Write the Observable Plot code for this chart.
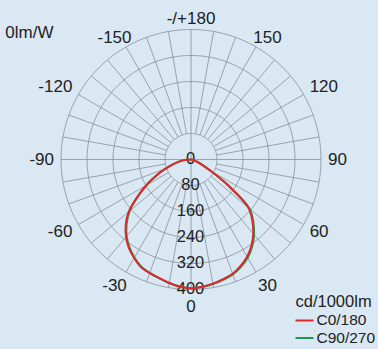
<!DOCTYPE html>
<html><head><meta charset="utf-8">
<script src="https://cdn.jsdelivr.net/npm/d3@7"></script>
<script src="https://cdn.jsdelivr.net/npm/@observablehq/plot@0.6"></script>
<style>html,body{margin:0;padding:0;background:#d9e8f3;overflow:hidden} svg{display:block}</style>
</head><body><div id="chart"></div>
<script>
// ---- data ----
const gammaAngles = [-90,-85,-80,-75,-70,-65,-60,-55,-50,-45,-40,-35,-30,-25,-20,-15,-10,-5,0,5,10,15,20,25,30,35,40,45,50,55,60,65,70,75,80,85,90];
const c0_180  = [0,20,38,58,85,120,160,203,250,284,311,333,350,365,372,378,386,393,396,393,388,381,374,361,345,324,298,267,230,140,68,35,18,8,3,1,0];
const c90_270 = [0,18,36,56,83,117,157,200,246,280,308,330,348,363,371,378,386,393,396,394,389,383,376,364,349,328,302,271,235,146,72,37,19,8,3,1,0];
const seriesNames = ["C0/180", "C90/270"];
const seriesColors = ["#e3262b", "#1f9a52"];
const ringValues = [80, 160, 240, 320, 400];
const ringLabels = ["0", "80", "160", "240", "320", "400"];
const angleTicks = [0, 30, 60, 90, 120, 150, 180, -150, -120, -90, -60, -30];
const angleLabels = ["0", "30", "60", "90", "120", "150", "-/+180", "-150", "-120", "-90", "-60", "-30"];
const unitLabel = "cd/1000lm";
const efficacyLabel = "0lm/W";

// ---- geometry ----
const W = 378, H = 349;
const cx = 190.5, cy = 159;          // centre in pixels
const k = 130 / 400;                  // pixels per cd
const pxX = p => (p - cx) / k;
const pxY = p => (cy - p) / k;
const rad = a => a * Math.PI / 180;
const polar = (a, r) => ({x: r * Math.sin(rad(a)), y: -r * Math.cos(rad(a))});
const maxR = ringValues[ringValues.length - 1];
const innerR = ringValues[0];

// curves
const curves = [];
[c90_270, c0_180].forEach((vals, si) => {
  const name = si === 0 ? seriesNames[1] : seriesNames[0];
  gammaAngles.forEach((a, i) => curves.push({...polar(a, vals[i]), s: name}));
});

// rings
const rings = [];
for (const v of ringValues) for (let a = 0; a <= 360; a += 2) rings.push({...polar(a, v), v});

// spokes every 10 degrees
const spokes = [];
for (let a = 0; a < 360; a += 10) {
  const axis = a % 90 === 0;
  const p1 = polar(a, axis ? 0 : innerR), p2 = polar(a, maxR);
  spokes.push({x1: p1.x, y1: p1.y, x2: p2.x, y2: p2.y});
}

// angle labels
const angleText = angleTicks.map((a, i) => {
  const s = Math.sin(rad(a)), c = Math.cos(rad(a));
  let x, anchor;
  if (Math.abs(s) < 0.1) { x = 0; anchor = "middle"; }
  else if (Math.abs(s) < 0.6) { x = 153 * s; anchor = "middle"; }
  else { x = 137 * s; anchor = s > 0 ? "start" : "end"; }
  const y = (c < -0.8 ? 141 : c > 0.99 ? 147 : 145) * c;
  return {x: x / k, y: -y / k, t: angleLabels[i], anchor};
});

const ringText = ringLabels.map((t, i) => ({x: 0, y: -(i * 80), t, dx: i === 0 ? 9 : 0}));

const fam = "'Liberation Sans', Arial, Helvetica, sans-serif";
const grid = "#87909a";
const fs = 17;
const lfs = 15.5;

const plot = Plot.plot({
  width: W, height: H, margin: 0,
  x: {domain: [pxX(0), pxX(W)], axis: null},
  y: {domain: [pxY(H), pxY(0)], axis: null},
  style: {background: "#d9e8f3", fontFamily: fam, fontSize: fs + "px", color: "#222"},
  marks: [
    Plot.line(rings, {x: "x", y: "y", z: "v", stroke: grid, strokeWidth: 0.8}),
    Plot.link(spokes, {x1: "x1", y1: "y1", x2: "x2", y2: "y2", stroke: grid, strokeWidth: 0.8}),
    Plot.text(ringText, {x: "x", y: "y", text: "t", dx: "dx", dy: -9, fill: "#222", fontSize: 16.5}),
    Plot.line(curves, {x: "x", y: "y", z: "s", stroke: d => d.s === seriesNames[0] ? seriesColors[0] : seriesColors[1], strokeWidth: 2, curve: "catmull-rom"}),
    ...["start", "middle", "end"].map(anc => Plot.text(angleText.filter(d => d.anchor === anc), {x: "x", y: "y", text: "t", textAnchor: anc, fill: "#222", fontSize: fs})),
    Plot.text([efficacyLabel], {x: pxX(53), y: pxY(32), text: d => d, textAnchor: "end", fill: "#222", fontSize: fs}),
    Plot.text([unitLabel], {x: pxX(295), y: pxY(301), text: d => d, textAnchor: "start", fill: "#222", fontSize: 16.5}),
    Plot.link(seriesNames, {x1: pxX(295), x2: pxX(313), y1: (d, i) => pxY(320 + i * 17.5), y2: (d, i) => pxY(320 + i * 17.5), stroke: (d, i) => seriesColors[i], strokeWidth: 2}),
    Plot.text(seriesNames, {x: pxX(316), y: (d, i) => pxY(320 + i * 17.5), text: d => d, textAnchor: "start", fill: "#222", fontSize: lfs})
  ]
});
document.getElementById("chart").appendChild(plot);
</script>
</body></html>
